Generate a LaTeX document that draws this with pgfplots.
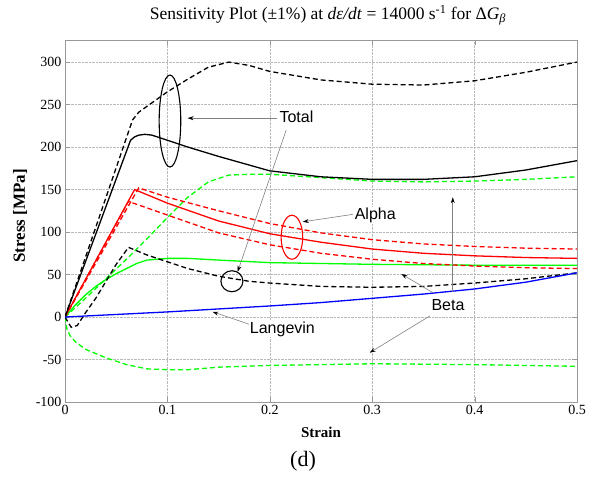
\documentclass[border=0pt]{standalone}
\usepackage{pgfplots}
\pgfplotsset{compat=1.18}
\usepackage{fontspec}
\setmainfont{Liberation Serif}
\newfontfamily\arial{Liberation Sans}
\usetikzlibrary{arrows.meta}
\definecolor{mred}{RGB}{255,0,0}
\definecolor{mgreen}{RGB}{0,255,0}
\definecolor{mblue}{RGB}{0,0,255}
\begin{document}
\begin{tikzpicture}[x=1pt,y=1pt]
\path[use as bounding box] (0,0) rectangle (594,478);
\begin{axis}[
  at={(65pt,76pt)}, anchor=south west,
  width=512pt, height=362pt, scale only axis,
  xmin=0, xmax=0.5, ymin=-100, ymax=326,
  xtick={0,0.1,0.2,0.3,0.4,0.5},
  xticklabels={\textrm{0},\textrm{0.1},\textrm{0.2},\textrm{0.3},\textrm{0.4},\textrm{0.5}},
  ytick={-100,-50,0,50,100,150,200,250,300},
  yticklabels={\textrm{-100},\textrm{-50},\textrm{0},\textrm{50},\textrm{100},\textrm{150},\textrm{200},\textrm{250},\textrm{300}},
  tick label style={font=\rmfamily\fontsize{14}{16}\selectfont},
  grid=major, grid style={densely dotted, gray!55},
  axis line style={gray!80},
  tick style={gray!80},
  tick align=inside,
  major tick length=5pt,
  clip=true,
  every axis plot/.append style={line width=1.3pt},
  mdash/.style={dash pattern=on 5pt off 3pt},
]
% Beta (green)
\addplot[mgreen, mdash] coordinates {(0,0)(0.02,22)(0.04,45)(0.06,68)(0.08,92)(0.1,117)(0.12,141)(0.14,159)(0.16,167)(0.18,168)(0.2,168)(0.25,164)(0.3,160)(0.35,159)(0.4,160)(0.45,162)(0.5,165)};
\addplot[mgreen, mdash] coordinates {(0,0)(0.002,-15)(0.005,-22)(0.01,-29)(0.02,-38)(0.04,-48)(0.06,-56)(0.08,-61)(0.1,-62)(0.12,-62)(0.15,-59)(0.2,-57)(0.3,-55)(0.4,-56)(0.5,-58)};
\addplot[mgreen] coordinates {(0,0)(0.01,14)(0.02,26)(0.03,36)(0.04,44)(0.05,51)(0.06,57)(0.07,63)(0.08,67)(0.1,69)(0.12,69)(0.15,67)(0.2,64)(0.3,62)(0.4,61)(0.5,61)};
% Alpha (red)
\addplot[mred, mdash] coordinates {(0,0)(0.072,152)(0.1,141)(0.15,125)(0.2,110)(0.25,99)(0.3,91)(0.35,86)(0.4,83)(0.45,81)(0.5,80)};
\addplot[mred] coordinates {(0,0)(0.068,150)(0.1,134)(0.15,113)(0.2,98)(0.25,88)(0.3,80)(0.35,75)(0.4,72)(0.45,70)(0.5,69)};
\addplot[mred, mdash] coordinates {(0,0)(0.062,136)(0.1,120)(0.15,99)(0.2,85)(0.25,75)(0.3,68)(0.35,63)(0.4,60)(0.45,58)(0.5,57)};
% Total (black)
\addplot[black, mdash] coordinates {(0,0)(0.066,232)(0.072,241)(0.1,265)(0.12,280)(0.14,294)(0.16,300)(0.18,296)(0.2,289)(0.25,279)(0.3,274)(0.35,273)(0.4,278)(0.45,288)(0.5,300)};
\addplot[black] coordinates {(0,0)(0.064,208)(0.068,212)(0.072,214)(0.078,215)(0.085,214)(0.1,208)(0.12,200)(0.15,189)(0.2,172)(0.25,165)(0.3,162)(0.35,162)(0.4,165)(0.45,173)(0.5,184)};
\addplot[black, mdash] coordinates {(0,0)(0.006,-12)(0.012,-10)(0.02,5)(0.03,22)(0.04,42)(0.05,62)(0.062,82)(0.08,73)(0.1,65)(0.12,57)(0.15,48)(0.18,42)(0.2,40)(0.25,36)(0.3,35)(0.35,36)(0.4,40)(0.45,45)(0.5,52)};
% Langevin (blue)
\addplot[mblue] coordinates {(0,0)(0.1,6)(0.2,13)(0.25,17)(0.3,22)(0.35,27)(0.4,33)(0.45,41)(0.5,52)};
% annotations
\draw[black, line width=1.1pt] (axis cs:0.1025,230.6) ellipse [x radius=10.8pt, y radius=46pt];
\draw[mred, line width=1.1pt] (axis cs:0.2216,93.9) ellipse [x radius=10.8pt, y radius=22pt];
\draw[black, line width=1.1pt] (axis cs:0.163,42.1) ellipse [x radius=11pt, y radius=10.5pt];
\begin{scope}[gray, line width=0.6pt, -{Stealth[length=6pt,width=4pt,black]}]
\draw (axis cs:0.2074,234) -- (axis cs:0.1197,234);
\draw (axis cs:0.216,220) -- (axis cs:0.1686,53.3);
\draw (axis cs:0.281,120.8) -- (axis cs:0.2322,112);
\draw (axis cs:0.3594,28.6) -- (axis cs:0.3285,50.6);
\draw (axis cs:0.3562,1.2) -- (axis cs:0.2975,-42);
\draw (axis cs:0.3787,30) -- (axis cs:0.3787,141);
\draw (axis cs:0.182,-9.4) -- (axis cs:0.144,6.2);
\end{scope}
\begin{scope}[font=\arial\fontsize{16}{18}\selectfont]
\node[fill=white, inner sep=1pt] at (axis cs:0.226,236) {Total};
\node[fill=white, inner sep=1pt] at (axis cs:0.303,120) {Alpha};
\node[inner sep=1pt] at (axis cs:0.374,14) {Beta};
\node[fill=white, inner sep=1pt] at (axis cs:0.2123,-14) {Langevin};
\end{scope}
\end{axis}
\node[font=\fontsize{17.5}{20}\selectfont] at (328,463) {Sensitivity Plot (±1\%) at \textit{dε/dt} = 14000 s\textsuperscript{-1} for Δ\textit{G}\textsubscript{\textit{β}}};
\node[font=\bfseries\fontsize{15}{17}\selectfont] at (321,46) {Strain};
\node[font=\bfseries\fontsize{17}{19}\selectfont, rotate=90] at (20,262) {Stress [MPa]};
\node[font=\fontsize{22}{24}\selectfont] at (303,17) {(d)};
\end{tikzpicture}
\end{document}
